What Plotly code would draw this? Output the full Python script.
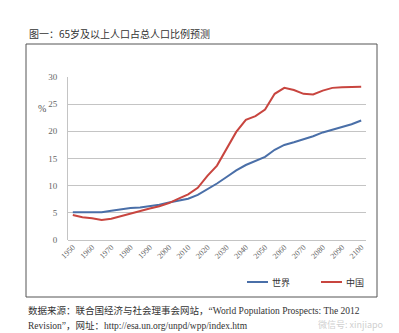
import plotly.graph_objects as go

years = list(range(1950, 2101, 5))
world = [5.1, 5.1, 5.1, 5.1, 5.4, 5.7, 5.9, 6.0, 6.2, 6.5, 6.9, 7.3, 7.6, 8.3, 9.3, 10.4,
         11.6, 12.8, 13.8, 14.5, 15.3, 16.6, 17.5, 18.0, 18.5, 19.1, 19.8, 20.3, 20.8, 21.3, 22.0]
china = [4.6, 4.2, 4.0, 3.7, 3.9, 4.4, 4.9, 5.4, 5.8, 6.2, 6.8, 7.6, 8.4, 9.6, 11.8, 13.7,
         16.7, 19.9, 22.1, 22.8, 24.0, 26.9, 28.0, 27.6, 26.9, 26.8, 27.5, 28.0, 28.1, 28.2, 28.2]
series_names = ["世界", "中国"]
series_colors = ["#4A6FA8", "#C8453F"]
x_ticks = list(range(1950, 2101, 10))
y_ticks = [0, 5, 10, 15, 20, 25, 30]

title_text = "图一：65岁及以上人口占总人口比例预测"
source_line1 = "数据来源：联合国经济与社会理事会网站，“World Population Prospects: The 2012"
source_line2 = "Revision”，网址：http://esa.un.org/unpd/wpp/index.htm"
watermark = "微信号: xinjiapo"

W, H = 399, 333
ML, MR, MT, MB = 68, 33, 77, 93
PW = W - ML - MR
PH = H - MT - MB


def xp(px):
    return (px - ML) / PW


def yp(py):
    return (H - MB - py) / PH


serif = "Liberation Serif, Noto Sans CJK SC, serif"
cjk = "Noto Sans CJK SC, sans-serif"

fig = go.Figure()
for name, vals, col in zip(series_names, [world, china], series_colors):
    fig.add_trace(go.Scatter(x=years, y=vals, mode="lines", name=name,
                             line=dict(color=col, width=2), showlegend=False))

# manual legend (line sample + label)
legend_x = [247, 321]
shapes = [
    dict(type="rect", xref="paper", yref="paper",
         x0=xp(26), x1=xp(377), y0=yp(297), y1=yp(44),
         line=dict(color="#555555", width=1), fillcolor="rgba(0,0,0,0)", layer="below"),
]
annotations = [
    dict(text=title_text, xref="paper", yref="paper", x=xp(27), y=yp(33),
         xanchor="left", yanchor="middle", showarrow=False,
         font=dict(family=cjk, size=10, color="#333333")),
    dict(text="%", xref="paper", yref="paper", x=xp(42), y=yp(108),
         xanchor="center", yanchor="middle", showarrow=False,
         font=dict(family=serif, size=10, color="#555555")),
    dict(text=source_line1, xref="paper", yref="paper", x=xp(26), y=yp(310),
         xanchor="left", yanchor="middle", showarrow=False,
         font=dict(family=serif, size=9.5, color="#333333")),
    dict(text=source_line2, xref="paper", yref="paper", x=xp(26), y=yp(325),
         xanchor="left", yanchor="middle", showarrow=False,
         font=dict(family=serif, size=9.5, color="#333333")),
    dict(text=watermark, xref="paper", yref="paper", x=xp(385), y=yp(324),
         xanchor="right", yanchor="middle", showarrow=False,
         font=dict(family=cjk, size=9, color="rgba(190,190,190,0.75)")),
]
for lx, name, col in zip(legend_x, series_names, series_colors):
    shapes.append(dict(type="line", xref="paper", yref="paper",
                       x0=xp(lx), x1=xp(lx + 21), y0=yp(282), y1=yp(282),
                       line=dict(color=col, width=2)))
    annotations.append(dict(text=name, xref="paper", yref="paper", x=xp(lx + 23), y=yp(282),
                            xanchor="left", yanchor="middle", showarrow=False,
                            font=dict(family=cjk, size=9, color="#333333")))

fig.update_layout(
    width=W, height=H,
    margin=dict(l=ML, r=MR, t=MT, b=MB),
    paper_bgcolor="white", plot_bgcolor="white",
    showlegend=False,
    xaxis=dict(range=[1947.5, 2102.5], tickmode="array", tickvals=x_ticks,
               ticktext=[str(v) for v in x_ticks], tickangle=-45,
               tickfont=dict(family=serif, size=8, color="#666666"),
               showgrid=False, showline=False, zeroline=False, ticks=""),
    yaxis=dict(range=[0, 30], tickmode="array", tickvals=y_ticks,
               tickfont=dict(family=serif, size=9, color="#666666"),
               ticklabelstandoff=8,
               showgrid=True, gridcolor="#C4C4C4", gridwidth=1,
               showline=True, linecolor="#C4C4C4", linewidth=1,
               zeroline=True, zerolinecolor="#C4C4C4", zerolinewidth=1, ticks=""),
    shapes=shapes,
    annotations=annotations,
)

fig.write_html("out.html")
